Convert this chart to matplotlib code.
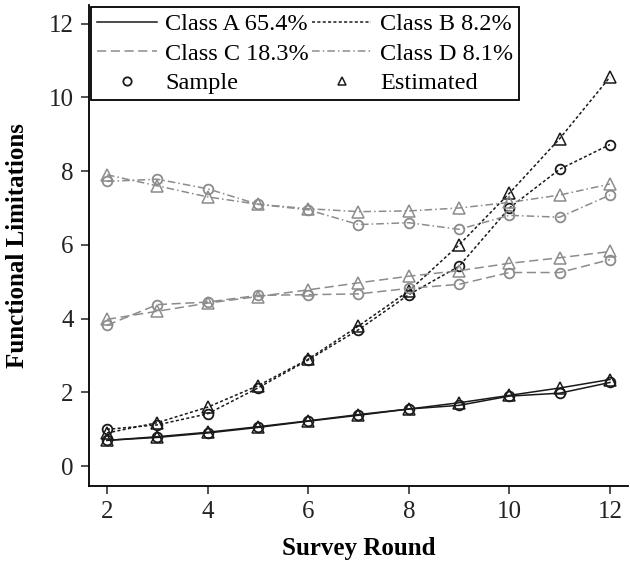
import matplotlib
matplotlib.use("Agg")
import matplotlib.pyplot as plt
from matplotlib.lines import Line2D

plt.rcParams['font.family'] = ['Liberation Serif', 'DejaVu Serif']

rounds = [2, 3, 4, 5, 6, 7, 8, 9, 10, 11, 12]

a_sample = [0.70, 0.78, 0.90, 1.05, 1.22, 1.38, 1.55, 1.65, 1.90, 1.98, 2.27]
a_est    = [0.70, 0.80, 0.92, 1.07, 1.23, 1.40, 1.55, 1.72, 1.92, 2.12, 2.35]

b_sample = [1.00, 1.12, 1.42, 2.12, 2.88, 3.70, 4.65, 5.42, 7.00, 8.05, 8.72]
b_est    = [0.90, 1.18, 1.60, 2.18, 2.90, 3.80, 4.75, 6.00, 7.40, 8.88, 10.55]

c_sample = [3.82, 4.38, 4.45, 4.63, 4.65, 4.67, 4.82, 4.93, 5.25, 5.25, 5.60]
c_est    = [3.98, 4.20, 4.42, 4.60, 4.78, 4.97, 5.15, 5.30, 5.50, 5.65, 5.82]

d_sample = [7.72, 7.78, 7.52, 7.10, 6.95, 6.55, 6.60, 6.42, 6.80, 6.75, 7.35]
d_est    = [7.90, 7.60, 7.30, 7.10, 6.98, 6.90, 6.92, 7.00, 7.15, 7.35, 7.65]

class_labels = ["Class A 65.4%", "Class B 8.2%", "Class C 18.3%", "Class D 8.1%"]

fig = plt.figure(figsize=(6.3, 5.62), dpi=100)
ax = fig.add_axes([0.141, 0.135, 0.856, 0.856])

black = "#1a1a1a"
gray = "#8c8c8c"
styles = [
    (a_sample, a_est, black, "-"),
    (b_sample, b_est, black, (0, (2, 1.5))),
    (c_sample, c_est, gray, (0, (6, 3))),
    (d_sample, d_est, gray, (0, (5, 2, 1, 2))),
]
for s, e, col, ls in styles:
    ax.plot(rounds, s, color=col, linestyle=ls, linewidth=1.1,
            marker='o', markersize=7, markerfacecolor='none',
            markeredgecolor=col, markeredgewidth=1.3)
    ax.plot(rounds, e, color=col, linestyle=ls, linewidth=1.1,
            marker='^', markersize=8, markerfacecolor='none',
            markeredgecolor=col, markeredgewidth=1.1)

ax.set_xlim(1.64, 12.36)
ax.set_ylim(-0.54, 12.5)
ax.set_xticks([2, 4, 6, 8, 10, 12])
ax.set_yticks([0, 2, 4, 6, 8, 10, 12])
ax.spines['top'].set_visible(False)
ax.spines['right'].set_visible(False)
ax.tick_params(direction='out', length=6, width=1.1, labelsize=18, colors='#222222', pad=5)
for sp in ['left', 'bottom']:
    ax.spines[sp].set_linewidth(1.3)
ax.set_xlabel("Survey Round", fontsize=18, fontweight='bold', labelpad=10)
ax.set_ylabel("Functional Limitations", fontsize=18, fontweight='bold', labelpad=14)

hA = Line2D([], [], color=black, linestyle="-", linewidth=1.1)
hB = Line2D([], [], color=black, linestyle=(0, (2, 1.5)), linewidth=1.1)
hC = Line2D([], [], color=gray, linestyle=(0, (6, 3)), linewidth=1.1)
hD = Line2D([], [], color=gray, linestyle=(0, (5, 2, 1, 2)), linewidth=1.1)
hS = Line2D([], [], color=black, linestyle='none', marker='o', markersize=6,
            markerfacecolor='none', markeredgewidth=1.3)
hE = Line2D([], [], color=black, linestyle='none', marker='^', markersize=6,
            markerfacecolor='none', markeredgewidth=1.1)

leg = ax.legend([hA, hC, hS, hB, hD, hE],
                [class_labels[0], class_labels[2], "Sample",
                 class_labels[1], class_labels[3], "Estimated"],
                ncol=2, loc='upper left', bbox_to_anchor=(91/630, 1 - 7/562),
                bbox_transform=fig.transFigure, fontsize=17.5, frameon=True,
                fancybox=False, edgecolor='black', framealpha=1,
                handlelength=2.45, handletextpad=0.35, columnspacing=0.12,
                labelspacing=0.31, borderpad=0.25, borderaxespad=0)
leg.get_frame().set_linewidth(1.3)

fig.savefig("out.png", dpi=100)
